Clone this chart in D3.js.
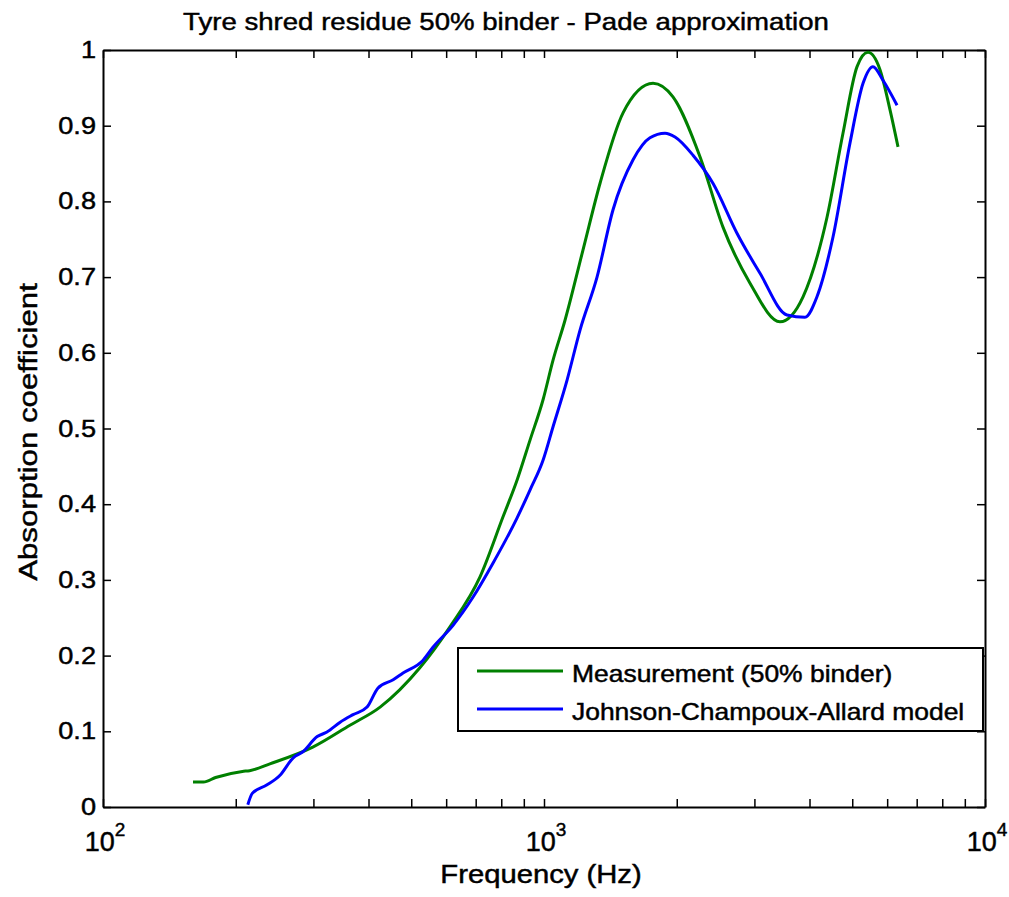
<!DOCTYPE html>
<head>
    <style> body { margin: 0; background: #fff; } text { font-family: "Liberation Sans", Arial, sans-serif; fill: #000; stroke: #000; stroke-width: 0.45px; } </style>
    <script src="https://d3js.org/d3.v7.min.js"></script>
</head>
<body>
    <svg id="chart" width="1009" height="897"></svg>
    <script>
        var measFreq = [160, 169, 180, 207, 215, 239, 299, 363, 425, 523, 612, 716, 807, 869, 930, 995, 1048, 1116, 1226, 1340, 1511, 1767, 1961, 2258, 2546, 2932, 3428, 3867, 4383, 4764, 5127, 5428, 5780, 6090, 6350]
        var measAbs = [0.033, 0.033, 0.039, 0.047, 0.048, 0.057, 0.079, 0.108, 0.132, 0.184, 0.238, 0.304, 0.383, 0.432, 0.485, 0.538, 0.590, 0.643, 0.736, 0.824, 0.917, 0.956, 0.938, 0.859, 0.766, 0.692, 0.641, 0.674, 0.779, 0.890, 0.978, 0.997, 0.974, 0.921, 0.872]

        // Johnson-Champoux-Allard model
        var modelFreq = [213, 218, 235, 252, 270, 284, 306, 322, 345, 369, 397, 420, 455, 479, 532, 560, 622, 690, 766, 869, 930, 995, 1048, 1128, 1207, 1319, 1434, 1592, 1739, 1881, 1982, 2177, 2416, 2739, 3089, 3556, 3907, 4159, 4522, 4941, 5290, 5571, 5870, 6318]
        var modelAbs = [0.003, 0.018, 0.029, 0.042, 0.065, 0.073, 0.093, 0.099, 0.112, 0.122, 0.132, 0.157, 0.168, 0.177, 0.194, 0.211, 0.240, 0.277, 0.322, 0.382, 0.419, 0.458, 0.502, 0.564, 0.630, 0.700, 0.789, 0.855, 0.884, 0.890, 0.885, 0.861, 0.824, 0.758, 0.705, 0.650, 0.647, 0.674, 0.753, 0.877, 0.956, 0.978, 0.960, 0.927]

        var yTicks = [0, 0.1, 0.2, 0.3, 0.4, 0.5, 0.6, 0.7, 0.8, 0.9, 1]
        var decades = [2, 3, 4]
        var seriesNames = ["Measurement (50% binder)", "Johnson-Champoux-Allard model"]
        var seriesColors = ["#008000", "#0000ff"]

        let marginLeft = 103
        let marginRight = 985
        let marginTop = 50
        let marginBottom = 807

        const svg = d3.select('#chart')

        let x = d3.scaleLog().domain([100, 10000]).range([marginLeft, marginRight])
        let y = d3.scaleLinear().domain([0, 1]).range([marginBottom, marginTop])

        // all the log ticks (minor + major)
        var xTickVals = []
        for (var d = 100; d < 10000; d *= 10) {
            for (var k = 1; k < 10; k++) xTickVals.push(d * k)
        }
        xTickVals.push(10000)

        function styleAxis(g) {
            g.selectAll("path").style("stroke", "#000").style("stroke-width", 2)
            g.selectAll("line").style("stroke", "#000").style("stroke-width", 1.5)
        }

        svg.append("g")
            .attr("transform", `translate(0,${marginBottom})`)
            .call(d3.axisBottom(x).tickValues(xTickVals).tickSizeInner(-8).tickSizeOuter(0).tickFormat(""))
            .call(styleAxis)
        svg.append("g")
            .attr("transform", `translate(0,${marginTop})`)
            .call(d3.axisTop(x).tickValues(xTickVals).tickSizeInner(-8).tickSizeOuter(0).tickFormat(""))
            .call(styleAxis)
        svg.append("g")
            .attr("transform", `translate(${marginLeft},0)`)
            .call(d3.axisLeft(y).tickValues(yTicks).tickSizeInner(-8).tickSizeOuter(0).tickFormat(""))
            .call(styleAxis)
        svg.append("g")
            .attr("transform", `translate(${marginRight},0)`)
            .call(d3.axisRight(y).tickValues(yTicks).tickSizeInner(-8).tickSizeOuter(0).tickFormat(""))
            .call(styleAxis)

        // y tick labels (text is drawn a bit wide, like the original export)
        svg.append("g")
            .selectAll("text")
            .data(yTicks)
            .join("text")
                .attr("transform", d => `translate(${marginLeft - 7},${y(d) + 8}) scale(1.18,1)`)
                .attr("text-anchor", "end")
                .style("font-size", "23px")
                .text(d => d === 0 || d === 1 ? d : d.toFixed(1))

        // x tick labels 10^n
        var xl = svg.append("g")
            .selectAll("text")
            .data(decades)
            .join("text")
                .attr("transform", d => `translate(${x(Math.pow(10, d)) + 2},851)`)
                .attr("text-anchor", "middle")
                .style("font-size", "27px")
        xl.append("tspan").text("10")
        xl.append("tspan").attr("dy", -15).style("font-size", "19px").text(d => d)

        // lines
        let line = d3.line()
            .x(d => x(d[0]))
            .y(d => y(d[1]))
            .curve(d3.curveMonotoneX)

        svg.append("path")
            .datum(d3.zip(measFreq, measAbs))
            .attr("fill", "none")
            .attr("stroke", seriesColors[0])
            .attr("stroke-width", 3)
            .attr("d", line)

        svg.append("path")
            .datum(d3.zip(modelFreq, modelAbs))
            .attr("fill", "none")
            .attr("stroke", seriesColors[1])
            .attr("stroke-width", 3)
            .attr("d", line)

        // title + axis labels
        svg.append("text")
            .attr("transform", "translate(506,30) scale(1.15,1)")
            .attr("text-anchor", "middle")
            .style("font-size", "24px")
            .text("Tyre shred residue 50% binder - Pade approximation")

        svg.append("text")
            .attr("transform", "translate(541,883) scale(1.17,1)")
            .attr("text-anchor", "middle")
            .style("font-size", "25px")
            .text("Frequency (Hz)")

        svg.append("text")
            .attr("transform", "translate(37,432) rotate(-90) scale(1.2,1)")
            .attr("text-anchor", "middle")
            .style("font-size", "26px")
            .text("Absorption coefficient")

        // legend
        var legend = svg.append("g")
        legend.append("rect")
            .attr("x", 458)
            .attr("y", 648)
            .attr("width", 525)
            .attr("height", 83)
            .attr("fill", "#fff")
            .attr("stroke", "#000")
            .attr("stroke-width", 2)

        var items = legend.selectAll("g.item")
            .data(seriesNames)
            .join("g")
                .attr("transform", (d, i) => `translate(0,${671 + i * 38})`)
        items.append("line")
            .attr("x1", 477).attr("x2", 563)
            .attr("stroke", (d, i) => seriesColors[i])
            .attr("stroke-width", 3)
        items.append("text")
            .attr("transform", "translate(572,11) scale(1.15,1)")
            .style("font-size", "23px")
            .text(d => d)
    </script>
</body>
